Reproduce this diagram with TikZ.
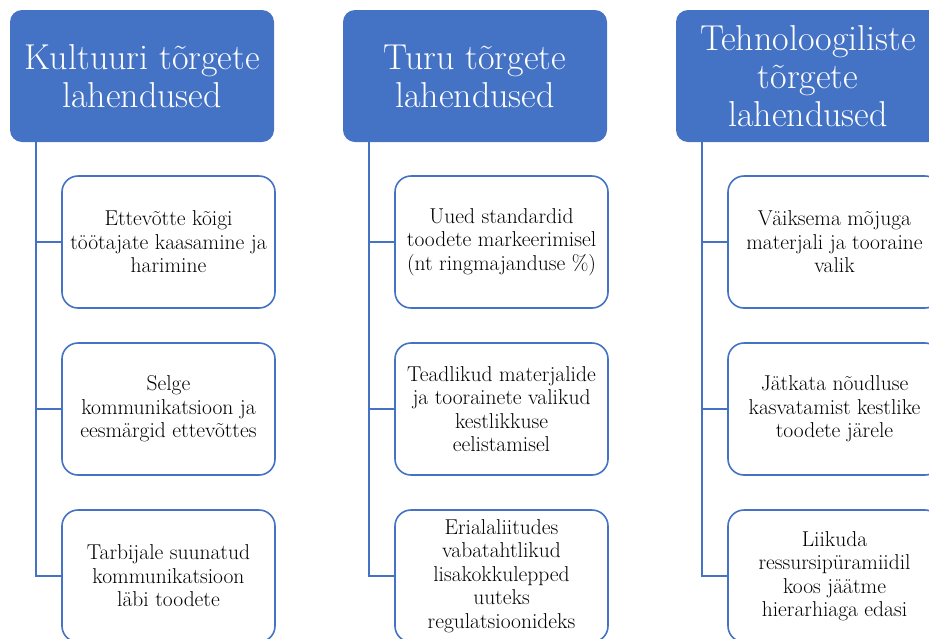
\documentclass[tikz,border=0pt]{standalone}
\usepackage{fontspec}
\definecolor{smartblue}{HTML}{4472C4}

\begin{document}
\begin{tikzpicture}[x=1pt,y=-1pt]
  \tikzset{head/.style={fill=smartblue,text=white,rounded corners=12pt,minimum width=264pt,minimum height=132pt,align=center,font=\fontsize{36}{38}\selectfont},
    item/.style={draw=smartblue,line width=1.6pt,fill=white,rounded corners=16pt,minimum width=213pt,minimum height=132pt,align=center,inner sep=0pt,font=\fontsize{21.5}{23.5}\selectfont},
    branch/.style={draw=smartblue,line width=1.6pt}}%headers, boxes and tree lines.
\useasboundingbox (0,0) rectangle (929,638);
\clip (0,0) rectangle (929,638);
\node[head] (h1) at (142,76) {Kultuuri tõrgete\\lahendused};
\node[head] (h2) at (475,76) {Turu tõrgete\\lahendused};
\node[head] (h3) at (808,76) {Tehnoloogiliste\\tõrgete\\lahendused};
\node[item] (h1a) at (168.5,242) {Ettevõtte kõigi\\töötajate kaasamine ja\\harimine};
\node[item] (h1b) at (168.5,409) {Selge\\kommunikatsioon ja\\eesmärgid ettevõttes};
\node[item] (h1c) at (168.5,576) {Tarbijale suunatud\\kommunikatsioon\\läbi toodete};
\node[item] (h2a) at (501.5,242) {Uued standardid\\toodete markeerimisel\\(nt ringmajanduse \%)};
\node[item] (h2b) at (501.5,409) {Teadlikud materjalide\\ja toorainete valikud\\kestlikkuse\\eelistamisel};
\node[item] (h2c) at (501.5,576) {Erialaliitudes\\vabatahtlikud\\lisakokkulepped\\uuteks\\regulatsioonideks};
\node[item] (h3a) at (834.5,242) {Väiksema mõjuga\\materjali ja tooraine\\valik};
\node[item] (h3b) at (834.5,409) {Jätkata nõudluse\\kasvatamist kestlike\\toodete järele};
\node[item] (h3c) at (834.5,576) {Liikuda\\ressursipüramiidil\\koos jäätme\\hierarhiaga edasi};
\coordinate (t1) at ([xshift=26pt]h1.south west);
\coordinate (t2) at ([xshift=26pt]h2.south west);
\coordinate (t3) at ([xshift=26pt]h3.south west);
\draw[branch] (t1) |- (h1a.west);
\draw[branch] (t1) |- (h1b.west);
\draw[branch] (t1) |- (h1c.west);
\draw[branch] (t2) |- (h2a.west);
\draw[branch] (t2) |- (h2b.west);
\draw[branch] (t2) |- (h2c.west);
\draw[branch] (t3) |- (h3a.west);
\draw[branch] (t3) |- (h3b.west);
\draw[branch] (t3) |- (h3c.west);
\end{tikzpicture}
\end{document}
